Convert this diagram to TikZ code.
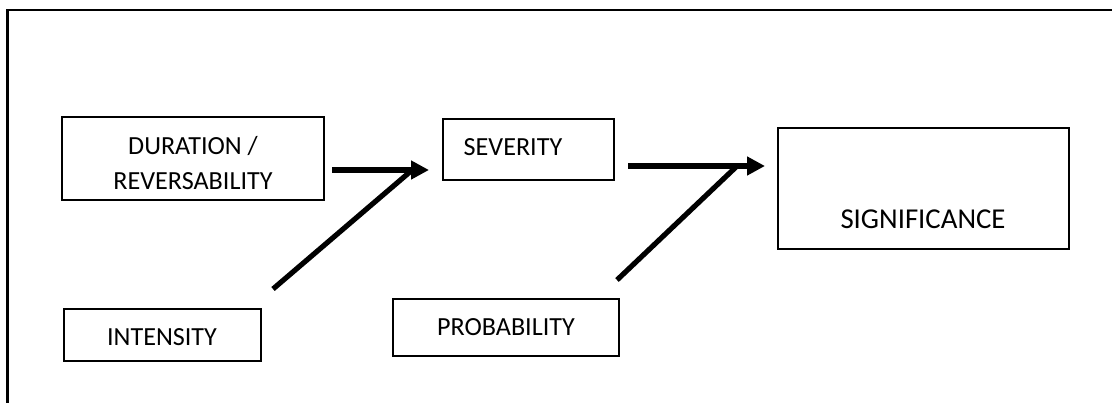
\documentclass[tikz,border=0pt]{standalone}
\usepackage{fontspec}
\setmainfont{Carlito}
\usetikzlibrary{arrows.meta}
\tikzset{
  box/.style={draw=black, line width=1.1pt, inner sep=0pt, rectangle},
  lbl/.style={inner sep=0pt, anchor=base, font=\fontsize{19.6}{24}\selectfont},
  biglbl/.style={inner sep=0pt, anchor=base, font=\fontsize{21.6}{26}\selectfont},
  conn/.style={line width=3.9pt},
  arr/.style={conn, -{Triangle[length=13.5pt, width=13.5pt]}},
  frame/.style={line width=1.6pt}
}
\begin{document}
\begin{tikzpicture}[x=0.75pt, y=-0.75pt]
\useasboundingbox (0,0) rectangle (1112,403);
% frame
\draw[frame] (1112,10) -- (7.5,10) -- (7.5,403);
% boxes
\node[box, minimum width=262*0.75pt, minimum height=83*0.75pt] (dur) at (193,158.5) {};
\node[box, minimum width=197*0.75pt, minimum height=52*0.75pt] (int) at (162.5,335) {};
\node[box, minimum width=171*0.75pt, minimum height=61*0.75pt] (sev) at (528.5,149.5) {};
\node[box, minimum width=226*0.75pt, minimum height=57*0.75pt] (prob) at (506,327.5) {};
\node[box, minimum width=291*0.75pt, minimum height=121*0.75pt] (sig) at (923.5,188.5) {};
% labels
\node[lbl] (durT1) at (193,154.5) {DURATION /};
\node[lbl] (durT2) at (193,189) {REVERSABILITY};
\node[lbl] (intT) at (162,345) {INTENSITY};
\node[lbl] (sevT) at (513,155) {SEVERITY};
\node[lbl] (probT) at (506,335) {PROBABILITY};
\node[biglbl] (sigT) at (923,228) {SIGNIFICANCE};
% connector points
\coordinate (a1s) at (332,170);
\coordinate (a1e) at (429,170);
\coordinate (d1s) at (273,289);
\coordinate (d1e) at (411,171);
\coordinate (a2s) at (628,166);
\coordinate (a2e) at (765,166);
\coordinate (d2s) at (617,280);
\coordinate (d2e) at (736,167);
% connectors
\draw[arr] (a1s) -- (a1e);
\draw[conn] (d1s) -- (d1e);
\draw[arr] (a2s) -- (a2e);
\draw[conn] (d2s) -- (d2e);
\end{tikzpicture}
\end{document}
